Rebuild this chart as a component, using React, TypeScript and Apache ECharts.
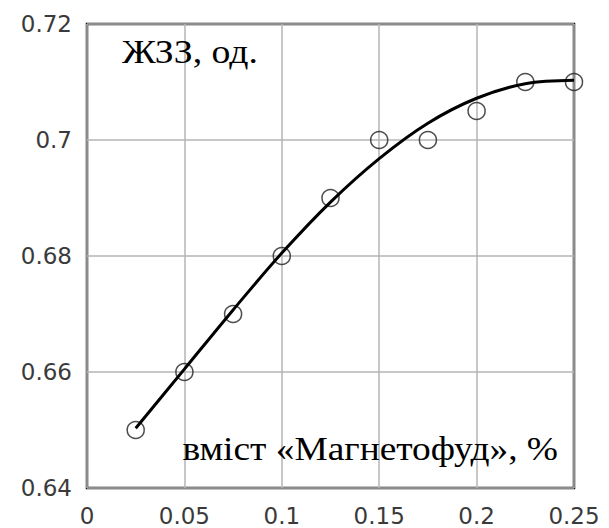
import React, { useEffect, useRef } from "react";
import * as echarts from "echarts";

// Magnetofood content, %
const contentPct: number[] = [0.025, 0.05, 0.075, 0.1, 0.125, 0.15, 0.175, 0.2, 0.225, 0.25];
// Measured ЖЗЗ values
const measured: number[] = [0.65, 0.66, 0.67, 0.68, 0.69, 0.7, 0.7, 0.705, 0.71, 0.71];
// Approximating curve values at the same contents
const fitted: number[] = [0.6503, 0.6605, 0.6707, 0.6805, 0.6893, 0.6968, 0.7029, 0.7072, 0.7097, 0.7103];

const xTicks: number[] = [0, 0.05, 0.1, 0.15, 0.2, 0.25];
const yTicks: number[] = [0.64, 0.66, 0.68, 0.7, 0.72];

const yTitle = "ЖЗЗ, од.";
const xTitle = "вміст «Магнетофуд», %";

export default function App() {
  const ref = useRef<HTMLDivElement>(null);

  useEffect(() => {
    if (!ref.current) return;
    const chart = echarts.init(ref.current, undefined, { renderer: "svg" });
    const tickFont = {
      fontFamily: "DejaVu Sans",
      fontSize: 23,
      color: "#3a3a3a",
    };
    const titleFont = {
      fontFamily: "Liberation Serif",
      fontSize: 34,
      fill: "#000",
    };
    chart.setOption({
      animation: false,
      backgroundColor: "#fff",
      grid: {
        left: 87,
        top: 24,
        width: 487,
        height: 464,
        show: true,
        borderColor: "#111",
        borderWidth: 2.5,
        backgroundColor: "transparent",
      },
      xAxis: {
        type: "value",
        min: xTicks[0],
        max: xTicks[xTicks.length - 1],
        interval: 0.05,
        axisLine: { show: false },
        axisTick: { show: false },
        splitLine: { show: true, lineStyle: { color: "#b4b4b4", width: 1.5 } },
        axisLabel: {
          ...tickFont,
          margin: 16,
          formatter: (v: number) => String(+v.toFixed(2)),
        },
      },
      yAxis: {
        type: "value",
        min: yTicks[0],
        max: yTicks[yTicks.length - 1],
        interval: 0.02,
        axisLine: { show: false },
        axisTick: { show: false },
        splitLine: { show: true, lineStyle: { color: "#b4b4b4", width: 1.5 } },
        axisLabel: {
          ...tickFont,
          margin: 15,
          formatter: (v: number) => String(+v.toFixed(2)),
        },
      },
      series: [
        {
          type: "scatter",
          data: contentPct.map((x, i) => [x, measured[i]]),
          symbol: "circle",
          symbolSize: 17,
          itemStyle: { color: "rgba(255,255,255,0)", borderColor: "#222", borderWidth: 1.5 },
          z: 2,
        },
        {
          type: "line",
          data: contentPct.map((x, i) => [x, fitted[i]]),
          smooth: 0.35,
          showSymbol: false,
          lineStyle: { color: "#000", width: 3 },
          z: 3,
        },
      ],
      graphic: [
        {
          type: "text",
          x: 122,
          y: 52,
          scaleX: 1.11,
          style: { text: yTitle, ...titleFont, verticalAlign: "middle", align: "left" },
          z: 10,
        },
        {
          type: "text",
          x: 558,
          y: 449,
          scaleX: 1.1,
          style: { text: xTitle, ...titleFont, verticalAlign: "middle", align: "right" },
          z: 10,
        },
      ],
    });
    return () => chart.dispose();
  }, []);

  return (
    <div
      ref={ref}
      style={{ position: "absolute", left: 0, top: 0, width: 609, height: 528 }}
    />
  );
}
